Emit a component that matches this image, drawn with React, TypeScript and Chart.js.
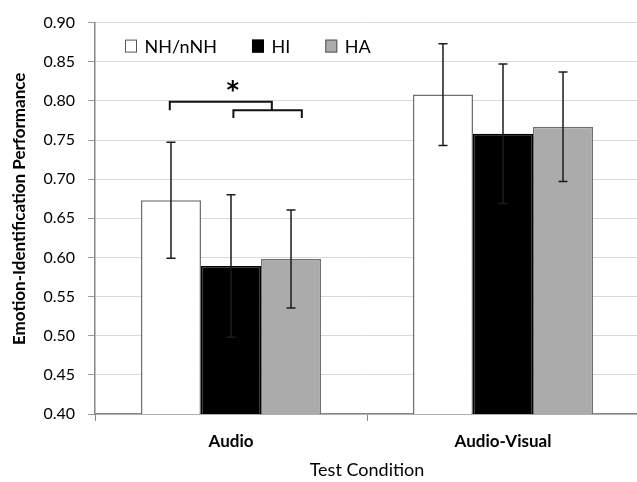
import { useEffect, useRef } from "react";
import { Chart, registerables } from "chart.js";

Chart.register(...registerables);

const categories = ["Audio", "Audio-Visual"];
const seriesNames = ["NH/nNH", "HI", "HA"];
const nhMeans = [0.673, 0.808];
const hiMeans = [0.589, 0.758];
const haMeans = [0.598, 0.767];
const nhErr = [0.074, 0.065];
const hiErr = [0.091, 0.089];
const haErr = [0.0625, 0.07];
const yTickValues = [0.4, 0.45, 0.5, 0.55, 0.6, 0.65, 0.7, 0.75, 0.8, 0.85, 0.9];
const sigUpperLevel = [0.799, 0.788];
const sigLowerLevel = [0.788, 0.778];
const sigLabel = "*";
const yTitle = "Emotion-Identification Performance";
const xTitle = "Test Condition";

const fills = ["#ffffff", "#000000", "#ababab"];
const borders = ["#707070", "#000000", "#707070"];
const FONT = "Lato";

const errorSeries = [nhErr, hiErr, haErr];

const errorBarPlugin = {
  id: "errorBars",
  afterDatasetsDraw(chart: any) {
    const ctx = chart.ctx;
    const y = chart.scales.y;
    ctx.save();
    ctx.strokeStyle = "#1c1c1c";
    ctx.lineWidth = 1.5;
    chart.data.datasets.forEach((ds: any, i: number) => {
      const meta = chart.getDatasetMeta(i);
      meta.data.forEach((el: any, j: number) => {
        const m = ds.data[j];
        const e = errorSeries[i][j];
        const yt = y.getPixelForValue(m + e);
        const yb = y.getPixelForValue(m - e);
        const x = el.x;
        ctx.beginPath();
        ctx.moveTo(x, yt);
        ctx.lineTo(x, yb);
        ctx.moveTo(x - 4.5, yt);
        ctx.lineTo(x + 4.5, yt);
        ctx.moveTo(x - 4.5, yb);
        ctx.lineTo(x + 4.5, yb);
        ctx.stroke();
      });
    });
    ctx.restore();
  },
};

const sigPlugin = {
  id: "sig",
  afterDatasetsDraw(chart: any) {
    const ctx = chart.ctx;
    const y = chart.scales.y;
    const w0 = chart.getDatasetMeta(0).data[0];
    const w1 = chart.getDatasetMeta(1).data[0];
    const w2 = chart.getDatasetMeta(2).data[0];
    const bw = w0.width;
    const lx1 = w1.x + 0.04 * bw;
    const lx2 = w2.x + 0.18 * bw;
    const ux1 = w0.x - 0.02 * bw;
    const ux2 = (lx1 + lx2) / 2 + 0.07 * bw;
    const uy = y.getPixelForValue(sigUpperLevel[0]);
    const uyl = y.getPixelForValue(sigUpperLevel[1]);
    const ly = y.getPixelForValue(sigLowerLevel[0]);
    const lyl = y.getPixelForValue(sigLowerLevel[1]);
    ctx.save();
    ctx.strokeStyle = "#111";
    ctx.lineWidth = 2;
    ctx.beginPath();
    ctx.moveTo(ux1, uyl);
    ctx.lineTo(ux1, uy);
    ctx.lineTo(ux2, uy);
    ctx.lineTo(ux2, ly);
    ctx.moveTo(lx1, lyl);
    ctx.lineTo(lx1, ly);
    ctx.lineTo(lx2, ly);
    ctx.lineTo(lx2, lyl);
    ctx.stroke();
    ctx.fillStyle = "#000";
    ctx.font = "bold 24px 'DejaVu Sans'";
    ctx.textAlign = "center";
    ctx.textBaseline = "alphabetic";
    ctx.fillText(sigLabel, (ux1 + ux2) / 2 + 12, uy - 4);
    ctx.restore();
  },
};

const textPlugin = {
  id: "texts",
  afterDraw(chart: any) {
    const ctx = chart.ctx;
    const area = chart.chartArea;
    ctx.save();
    ctx.fillStyle = "#000";
    ctx.font = `bold 17px ${FONT}`;
    ctx.textAlign = "center";
    ctx.textBaseline = "alphabetic";
    ctx.translate(25, (area.top + area.bottom) / 2 - 9.5);
    ctx.rotate(-Math.PI / 2);
    ctx.fillText(yTitle, 0, 0);
    ctx.restore();

    ctx.save();
    ctx.font = `18px ${FONT}`;
    ctx.textBaseline = "alphabetic";
    ctx.textAlign = "left";
    let x = area.left + 30;
    const base = area.top + 30.5;
    seriesNames.forEach((name, i) => {
      ctx.fillStyle = fills[i];
      ctx.fillRect(x, base - 13.5, 12, 13);
      ctx.strokeStyle = i === 1 ? "#000" : "#555";
      ctx.lineWidth = 1;
      ctx.strokeRect(x + 0.5, base - 13, 11, 12);
      ctx.fillStyle = "#000";
      const tx = x + 19.5;
      ctx.fillText(name, tx, base);
      x = tx + ctx.measureText(name).width + 35;
    });
    ctx.restore();
  },
};

export default function App() {
  const ref = useRef<HTMLCanvasElement>(null);
  useEffect(() => {
    document.body.style.margin = "0";
    document.body.style.overflow = "hidden";
    const chart = new Chart(ref.current as HTMLCanvasElement, {
      type: "bar",
      data: {
        labels: categories,
        datasets: [nhMeans, hiMeans, haMeans].map((d, i) => ({
          label: seriesNames[i],
          data: d,
          backgroundColor: fills[i],
          borderColor: borders[i],
          borderWidth: 1.5,
        })),
      },
      options: {
        animation: false,
        responsive: false,
        layout: { padding: { top: 17, right: 11, left: 0, bottom: 0 } },
        datasets: { bar: { categoryPercentage: 0.662, barPercentage: 1 } },
        plugins: { legend: { display: false }, tooltip: { enabled: false } },
        scales: {
          x: {
            grid: { offset: true, drawOnChartArea: false, tickLength: 7, color: "#868686", tickColor: "#868686" },
            border: { color: "#868686", width: 1.5 },
            ticks: { font: { family: FONT, size: 17, weight: "bold" }, color: "#000", padding: 10 },
            title: {
              display: true,
              text: xTitle,
              font: { family: FONT, size: 18 },
              color: "#000",
              padding: { top: 0, bottom: 1 },
            },
            afterFit: (s: any) => {
              s.height = 68;
            },
          },
          y: {
            min: 0.4,
            max: 0.9,
            afterBuildTicks: (s: any) => {
              s.ticks = yTickValues.map((v) => ({ value: v }));
            },
            ticks: {
              callback: (v: any) => Number(v).toFixed(2),
              font: { family: FONT, size: 16 },
              color: "#000",
              padding: 13,
            },
            grid: { color: "#d9d9d9", tickLength: 7, tickColor: "#9a9a9a" },
            border: { color: "#868686", width: 1.5 },
            afterFit: (s: any) => {
              s.width = 95;
            },
          },
        },
      } as any,
      plugins: [errorBarPlugin, sigPlugin, textPlugin],
    });
    return () => chart.destroy();
  }, []);
  return (
    <div style={{ position: "fixed", left: 0, top: 0, width: 650, height: 482, background: "#fff" }}>
      <canvas ref={ref} width={650} height={482} style={{ width: 650, height: 482, display: "block" }} />
    </div>
  );
}
